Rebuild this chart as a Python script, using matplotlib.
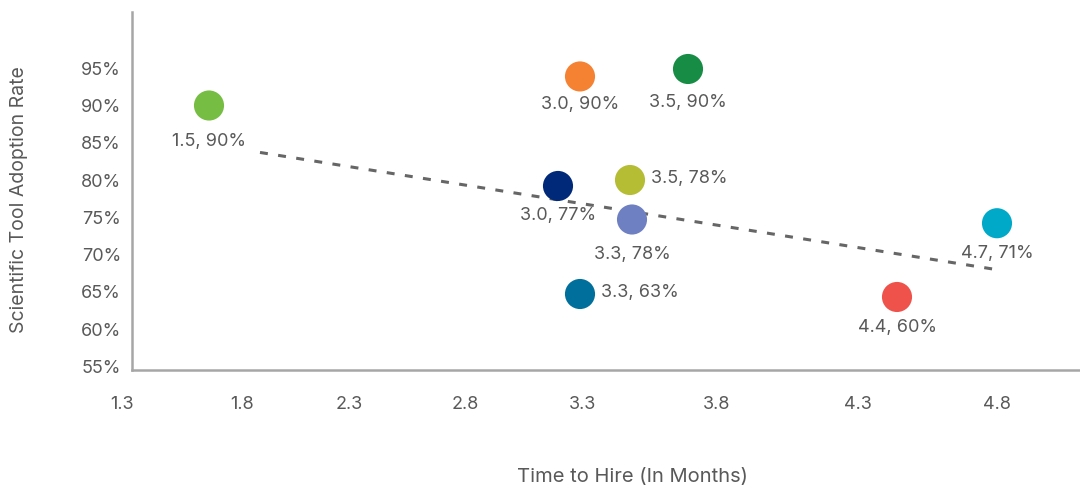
import matplotlib.pyplot as plt

plt.rcParams['font.family'] = ['Inter', 'DejaVu Sans']

### Data (positions)
x_vals = [1.648, 3.132, 3.564, 3.044, 3.332, 3.340, 3.132, 4.400, 4.800]
y_vals = [90.0, 93.9, 94.9, 79.2, 80.0, 74.7, 64.7, 64.3, 74.2]
labels = ["1.5, 90%", "3.0, 90%", "3.5, 90%", "3.0, 77%", "3.5, 78%",
          "3.3, 78%", "3.3, 63%", "4.4, 60%", "4.7, 71%"]
colors = ["#76bd43", "#f58233", "#178c44", "#00297a", "#b5bd35",
          "#6f80c2", "#006f9c", "#ef524a", "#00a9c8"]
label_side = ["below", "below", "below", "below", "right",
              "below", "right", "below", "below"]
# label offset below the marker, in points
label_drop = [26, 20, 24, 21, 0, 25, 0, 22, 22]

trend_x = [1.852, 4.812]
trend_y = [83.7, 67.9]

xtick_pos = [1.30, 1.78, 2.208, 2.672, 3.144, 3.68, 4.244, 4.80]
xtick_labels = ["1.3", "1.8", "2.3", "2.8", "3.3", "3.8", "4.3", "4.8"]
ytick_vals = [55, 60, 65, 70, 75, 80, 85, 90, 95]

text_c = "#595959"

### Plot
fig = plt.figure(figsize=(10.8, 4.9), dpi=100)
ax = fig.add_axes([122/1080, 1 - 370/490, 1 - 122/1080, (370 - 12)/490])

ax.plot(trend_x, trend_y, color="#666666", lw=2.2,
        linestyle=(0, (2.6, 3.4)), zorder=1)
ax.scatter(x_vals, y_vals, s=470, c=colors, edgecolors="none", zorder=3)

for x, y, lab, side, dy in zip(x_vals, y_vals, labels, label_side, label_drop):
    if side == "below":
        ax.annotate(lab, (x, y), xytext=(0, -dy), textcoords="offset points",
                    ha="center", va="center", fontsize=13, color=text_c, zorder=4)
    else:
        ax.annotate(lab, (x, y), xytext=(15, 1), textcoords="offset points",
                    ha="left", va="center", fontsize=13, color=text_c, zorder=4)

ax.set_xticks(xtick_pos)
ax.set_xticklabels(xtick_labels)
ax.set_yticks(ytick_vals)
ax.set_yticklabels([f"{v}%" for v in ytick_vals])
ax.set_xlim(1.3, 5.132)
ax.set_ylim(54.5, 102.55)
ax.tick_params(length=0, labelsize=13, labelcolor=text_c)
ax.tick_params(axis="x", pad=19)
ax.tick_params(axis="y", pad=8)

for s in ["top", "right"]:
    ax.spines[s].set_visible(False)
for s in ["left", "bottom"]:
    ax.spines[s].set_color("#a6a6a6")
    ax.spines[s].set_linewidth(1.8)
ax.spines["left"].set_position(("data", 1.34))
ax.spines["bottom"].set_bounds(1.34, 5.132)

fig.text(632/1080, 1 - 477/490, "Time to Hire (In Months)", ha="center",
         va="center", fontsize=14.5, color=text_c)
fig.text(19/1080, 1 - 200/490, "Scientific Tool Adoption Rate", ha="center",
         va="center", rotation=90, fontsize=14, color=text_c)

fig.savefig("out.png", dpi=100)
